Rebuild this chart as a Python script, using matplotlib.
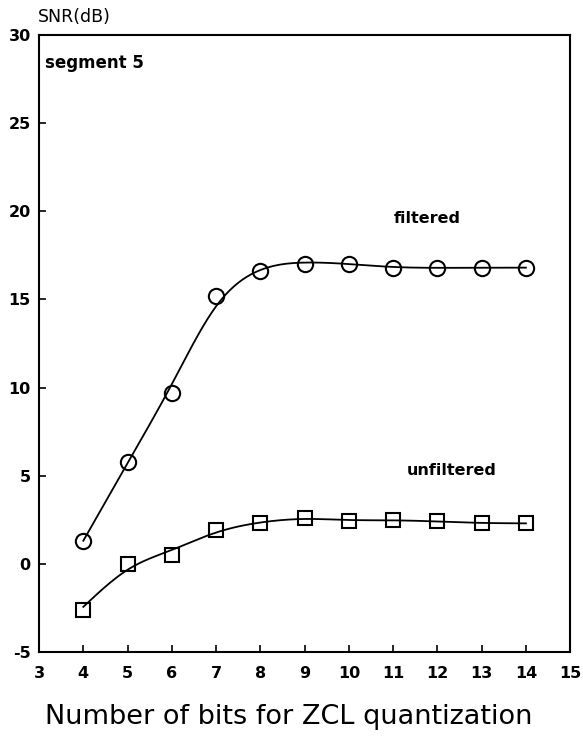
import numpy as np
import matplotlib
matplotlib.use("Agg")
import matplotlib.pyplot as plt

plt.rcParams['font.family'] = ['DejaVu Sans']
plt.rcParams['axes.unicode_minus'] = False

# SNR per quantization bit count, segment 5
bits = [4, 5, 6, 7, 8, 9, 10, 11, 12, 13, 14]
snr_filtered = [1.3, 5.8, 9.7, 15.2, 16.6, 17.0, 17.0, 16.8, 16.8, 16.8, 16.8]
snr_unfiltered = [-2.6, 0.0, 0.5, 1.9, 2.3, 2.6, 2.4, 2.5, 2.4, 2.3, 2.3]


def smooth(x, y, p=0.1, h=0.05):
    # penalised least-squares (smoothing spline style) curve over a fine grid
    x = np.asarray(x, float)
    y = np.asarray(y, float)
    grid = np.arange(x[0], x[-1] + h / 2, h)
    idx = np.rint((x - x[0]) / h).astype(int)
    w = np.zeros(len(grid))
    target = np.zeros(len(grid))
    w[idx] = 1.0
    target[idx] = y
    d = np.diff(np.eye(len(grid)), 2, axis=0)
    lam = p / h ** 3
    z = np.linalg.solve(np.diag(w) + lam * d.T @ d, w * target)
    return grid, z


fig = plt.figure(figsize=(5.83, 7.45), dpi=100)
ax = fig.add_axes([0.067, 0.125, 0.911, 0.828])

for vals, mk, ms in ((snr_filtered, 'o', 11), (snr_unfiltered, 's', 9.5)):
    sx, sy = smooth(bits, vals)
    ax.plot(sx, sy, color='black', lw=1.3)
    ax.plot(bits, vals, linestyle='none', marker=mk, ms=ms,
            mfc='none', mec='black', mew=1.5)

ax.set_xlim(3, 15)
ax.set_ylim(-5, 30)
ax.set_xticks(range(3, 16))
ax.set_yticks(range(-5, 31, 5))
ax.tick_params(direction='in', length=5, width=1.2, labelsize=11.5)
ax.tick_params(axis='x', pad=10)
ax.tick_params(axis='y', pad=6)
for lab in ax.get_xticklabels() + ax.get_yticklabels():
    lab.set_fontweight('bold')
for s in ax.spines.values():
    s.set_linewidth(1.5)

ax.set_xlabel('Number of bits for ZCL quantization', fontsize=19.5, labelpad=14)
ax.xaxis.set_label_coords(0.47, -0.085)
fig.text(0.065, 0.965, 'SNR(dB)', fontsize=12.5, ha='left', va='bottom')
ax.text(3.13, 28.4, 'segment 5', fontsize=12, fontweight='bold', va='center')
ax.text(11.02, 19.6, 'filtered', fontsize=11.5, fontweight='bold', va='center')
ax.text(11.3, 5.3, 'unfiltered', fontsize=11.5, fontweight='bold', va='center')

fig.savefig('out.png', dpi=100)
